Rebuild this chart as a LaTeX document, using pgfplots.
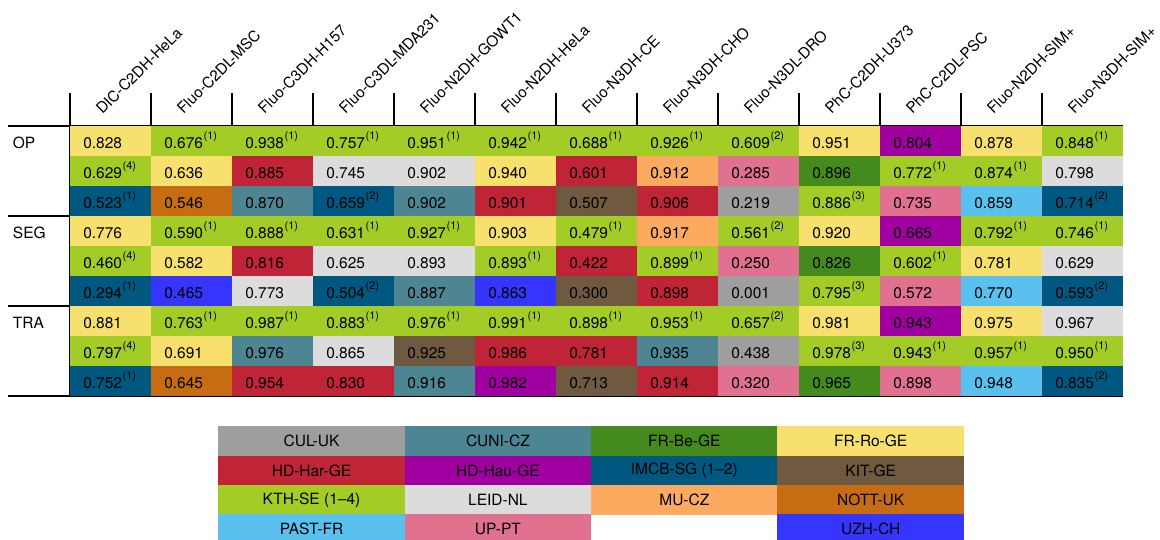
\documentclass[border=0pt]{standalone}
\usepackage{fontspec}
\setmainfont{TeX Gyre Heros}
\usepackage{pgfplots}
\usepackage{pgfplotstable}
\pgfplotsset{compat=1.18}

\definecolor{team-cul}{RGB}{158,158,158}
\definecolor{team-cuni}{RGB}{78,133,146}
\definecolor{team-frbe}{RGB}{68,138,28}
\definecolor{team-frro}{RGB}{247,224,110}
\definecolor{team-hdhar}{RGB}{192,37,55}
\definecolor{team-hdhau}{RGB}{160,0,160}
\definecolor{team-imcb}{RGB}{0,88,128}
\definecolor{team-kit}{RGB}{111,90,65}
\definecolor{team-kth}{RGB}{163,204,39}
\definecolor{team-leid}{RGB}{220,220,220}
\definecolor{team-mu}{RGB}{253,170,97}
\definecolor{team-nott}{RGB}{198,109,20}
\definecolor{team-past}{RGB}{90,192,238}
\definecolor{team-up}{RGB}{224,113,143}
\definecolor{team-uzh}{RGB}{53,53,254}

\newcommand\supfont{\fontsize{11}{12}\selectfont}
\protected\def\supa{\kern0.6pt\raisebox{8.3pt}{\supfont(1)}}
\protected\def\supb{\kern0.6pt\raisebox{8.3pt}{\supfont(2)}}
\protected\def\supc{\kern0.6pt\raisebox{8.3pt}{\supfont(3)}}
\protected\def\supd{\kern0.6pt\raisebox{8.3pt}{\supfont(4)}}

\pgfdeclareplotmark{cell}{\pgfpathrectangle{\pgfpoint{-40.7pt}{-15.2pt}}{\pgfpoint{81.4pt}{30.4pt}}\pgfusepathqfill}
\pgfdeclareplotmark{lcell}{\pgfpathrectangle{\pgfpoint{-93.4pt}{-14.85pt}}{\pgfpoint{186.8pt}{29.7pt}}\pgfusepathqfill}

\newcommand\tfont{\fontsize{15.5}{18}\selectfont}
\newcommand\hfont{\fontsize{15.2}{19}\selectfont}

% table values: column centre x, row centre y, value
\pgfplotstableread{
x y lab
0.5 8.5 0.828
1.5 8.5 0.676\supa
2.5 8.5 0.938\supa
3.5 8.5 0.757\supa
4.5 8.5 0.951\supa
5.5 8.5 0.942\supa
6.5 8.5 0.688\supa
7.5 8.5 0.926\supa
8.5 8.5 0.609\supb
9.5 8.5 0.951
10.5 8.5 0.804
11.5 8.5 0.878
12.5 8.5 0.848\supa
0.5 7.5 0.629\supd
1.5 7.5 0.636
2.5 7.5 0.885
3.5 7.5 0.745
4.5 7.5 0.902
5.5 7.5 0.940
6.5 7.5 0.601
7.5 7.5 0.912
8.5 7.5 0.285
9.5 7.5 0.896
10.5 7.5 0.772\supa
11.5 7.5 0.874\supa
12.5 7.5 0.798
0.5 6.5 0.523\supa
1.5 6.5 0.546
2.5 6.5 0.870
3.5 6.5 0.659\supb
4.5 6.5 0.902
5.5 6.5 0.901
6.5 6.5 0.507
7.5 6.5 0.906
8.5 6.5 0.219
9.5 6.5 0.886\supc
10.5 6.5 0.735
11.5 6.5 0.859
12.5 6.5 0.714\supb
0.5 5.5 0.776
1.5 5.5 0.590\supa
2.5 5.5 0.888\supa
3.5 5.5 0.631\supa
4.5 5.5 0.927\supa
5.5 5.5 0.903
6.5 5.5 0.479\supa
7.5 5.5 0.917
8.5 5.5 0.561\supb
9.5 5.5 0.920
10.5 5.5 0.665
11.5 5.5 0.792\supa
12.5 5.5 0.746\supa
0.5 4.5 0.460\supd
1.5 4.5 0.582
2.5 4.5 0.816
3.5 4.5 0.625
4.5 4.5 0.893
5.5 4.5 0.893\supa
6.5 4.5 0.422
7.5 4.5 0.899\supa
8.5 4.5 0.250
9.5 4.5 0.826
10.5 4.5 0.602\supa
11.5 4.5 0.781
12.5 4.5 0.629
0.5 3.5 0.294\supa
1.5 3.5 0.465
2.5 3.5 0.773
3.5 3.5 0.504\supb
4.5 3.5 0.887
5.5 3.5 0.863
6.5 3.5 0.300
7.5 3.5 0.898
8.5 3.5 0.001
9.5 3.5 0.795\supc
10.5 3.5 0.572
11.5 3.5 0.770
12.5 3.5 0.593\supb
0.5 2.5 0.881
1.5 2.5 0.763\supa
2.5 2.5 0.987\supa
3.5 2.5 0.883\supa
4.5 2.5 0.976\supa
5.5 2.5 0.991\supa
6.5 2.5 0.898\supa
7.5 2.5 0.953\supa
8.5 2.5 0.657\supb
9.5 2.5 0.981
10.5 2.5 0.943
11.5 2.5 0.975
12.5 2.5 0.967
0.5 1.5 0.797\supd
1.5 1.5 0.691
2.5 1.5 0.976
3.5 1.5 0.865
4.5 1.5 0.925
5.5 1.5 0.986
6.5 1.5 0.781
7.5 1.5 0.935
8.5 1.5 0.438
9.5 1.5 0.978\supc
10.5 1.5 0.943\supa
11.5 1.5 0.957\supa
12.5 1.5 0.950\supa
0.5 0.5 0.752\supa
1.5 0.5 0.645
2.5 0.5 0.954
3.5 0.5 0.830
4.5 0.5 0.916
5.5 0.5 0.982
6.5 0.5 0.713
7.5 0.5 0.914
8.5 0.5 0.320
9.5 0.5 0.965
10.5 0.5 0.898
11.5 0.5 0.948
12.5 0.5 0.835\supb
}\celldata

\pgfplotstableread{
x y lab
0.5 3.5 CUL-UK
1.5 3.5 CUNI-CZ
2.5 3.5 FR-Be-GE
3.5 3.5 FR-Ro-GE
0.5 2.5 HD-Har-GE
1.5 2.5 HD-Hau-GE
2.5 2.5 IMCB-SG~(1–2)
3.5 2.5 KIT-GE
0.5 1.5 KTH-SE~(1–4)
1.5 1.5 LEID-NL
2.5 1.5 MU-CZ
3.5 1.5 NOTT-UK
0.5 0.5 PAST-FR
1.5 0.5 UP-PT
3.5 0.5 UZH-CH
}\legenddata

\begin{document}
\begin{tikzpicture}[font=\tfont]
\begin{axis}[at={(70pt,144pt)}, anchor=south west, scale only axis,
  width=1053pt, height=270pt, xmin=0, xmax=13, ymin=0, ymax=9,
  hide axis, clip=false]
% cells of each team
\addplot[only marks, mark=cell, color=team-frro] coordinates {(0.5,8.5) (9.5,8.5) (11.5,8.5) (1.5,7.5) (5.5,7.5) (0.5,5.5) (5.5,5.5) (9.5,5.5) (1.5,4.5) (11.5,4.5) (0.5,2.5) (9.5,2.5) (11.5,2.5) (1.5,1.5)};
\addplot[only marks, mark=cell, color=team-kth] coordinates {(1.5,8.5) (2.5,8.5) (3.5,8.5) (4.5,8.5) (5.5,8.5) (6.5,8.5) (7.5,8.5) (8.5,8.5) (12.5,8.5)
 (0.5,7.5) (10.5,7.5) (11.5,7.5) (9.5,6.5)
 (1.5,5.5) (2.5,5.5) (3.5,5.5) (4.5,5.5) (6.5,5.5) (8.5,5.5) (11.5,5.5) (12.5,5.5)
 (0.5,4.5) (5.5,4.5) (7.5,4.5) (10.5,4.5) (9.5,3.5)
 (1.5,2.5) (2.5,2.5) (3.5,2.5) (4.5,2.5) (5.5,2.5) (6.5,2.5) (7.5,2.5) (8.5,2.5)
 (0.5,1.5) (9.5,1.5) (10.5,1.5) (11.5,1.5) (12.5,1.5)};
\addplot[only marks, mark=cell, color=team-hdhau] coordinates {(10.5,8.5) (10.5,5.5) (10.5,2.5) (5.5,0.5)};
\addplot[only marks, mark=cell, color=team-hdhar] coordinates {(2.5,7.5) (6.5,7.5) (5.5,6.5) (7.5,6.5) (2.5,4.5) (6.5,4.5) (7.5,3.5) (5.5,1.5) (6.5,1.5) (2.5,0.5) (3.5,0.5) (7.5,0.5)};
\addplot[only marks, mark=cell, color=team-leid] coordinates {(3.5,7.5) (4.5,7.5) (12.5,7.5) (3.5,4.5) (4.5,4.5) (12.5,4.5) (2.5,3.5) (12.5,2.5) (3.5,1.5)};
\addplot[only marks, mark=cell, color=team-mu] coordinates {(7.5,7.5) (7.5,5.5)};
\addplot[only marks, mark=cell, color=team-up] coordinates {(8.5,7.5) (10.5,6.5) (8.5,4.5) (10.5,3.5) (8.5,0.5) (10.5,0.5)};
\addplot[only marks, mark=cell, color=team-frbe] coordinates {(9.5,7.5) (9.5,4.5) (9.5,0.5)};
\addplot[only marks, mark=cell, color=team-imcb] coordinates {(0.5,6.5) (3.5,6.5) (12.5,6.5) (0.5,3.5) (3.5,3.5) (12.5,3.5) (0.5,0.5) (12.5,0.5)};
\addplot[only marks, mark=cell, color=team-nott] coordinates {(1.5,6.5) (1.5,0.5)};
\addplot[only marks, mark=cell, color=team-cuni] coordinates {(2.5,6.5) (4.5,6.5) (4.5,3.5) (2.5,1.5) (7.5,1.5) (4.5,0.5)};
\addplot[only marks, mark=cell, color=team-kit] coordinates {(6.5,6.5) (6.5,3.5) (4.5,1.5) (6.5,0.5)};
\addplot[only marks, mark=cell, color=team-cul] coordinates {(8.5,6.5) (8.5,3.5) (8.5,1.5)};
\addplot[only marks, mark=cell, color=team-past] coordinates {(11.5,6.5) (11.5,3.5) (11.5,0.5)};
\addplot[only marks, mark=cell, color=team-uzh] coordinates {(1.5,3.5) (5.5,3.5)};
% values
\addplot[draw=none, mark=none, nodes near coords, point meta=explicit symbolic,
  nodes near coords style={anchor=base west, inner sep=0pt, xshift=-27.4pt, yshift=-7.2pt, text=black, font=\tfont}]
  table[x=x, y=y, meta=lab]{\celldata};
\pgfplotsinvokeforeach{0,...,12}{\draw[line width=1.6pt, black] (axis cs:#1,0) -- (axis cs:#1,10.1);}
\pgfplotsinvokeforeach{0,3,6,9}{\draw[line width=1.8pt, black] (axis cs:-0.762,#1) -- (axis cs:13,#1);}
\node[anchor=base west, inner sep=0pt, font=\tfont] at (axis cs:-0.707,8.26) {OP};
\node[anchor=base west, inner sep=0pt, font=\tfont] at (axis cs:-0.707,5.26) {SEG};
\node[anchor=base west, inner sep=0pt, font=\tfont] at (axis cs:-0.707,2.26) {TRA};
\node[rotate=45, anchor=base west, inner sep=0pt, font=\hfont] at (axis cs:0.40,9.367) {DIC-C2DH-HeLa};
\node[rotate=45, anchor=base west, inner sep=0pt, font=\hfont] at (axis cs:1.40,9.367) {Fluo-C2DL-MSC};
\node[rotate=45, anchor=base west, inner sep=0pt, font=\hfont] at (axis cs:2.40,9.367) {Fluo-C3DH-H157};
\node[rotate=45, anchor=base west, inner sep=0pt, font=\hfont] at (axis cs:3.40,9.367) {Fluo-C3DL-MDA231};
\node[rotate=45, anchor=base west, inner sep=0pt, font=\hfont] at (axis cs:4.40,9.367) {Fluo-N2DH-GOWT1};
\node[rotate=45, anchor=base west, inner sep=0pt, font=\hfont] at (axis cs:5.40,9.367) {Fluo-N2DH-HeLa};
\node[rotate=45, anchor=base west, inner sep=0pt, font=\hfont] at (axis cs:6.40,9.367) {Fluo-N3DH-CE};
\node[rotate=45, anchor=base west, inner sep=0pt, font=\hfont] at (axis cs:7.40,9.367) {Fluo-N3DH-CHO};
\node[rotate=45, anchor=base west, inner sep=0pt, font=\hfont] at (axis cs:8.40,9.367) {Fluo-N3DL-DRO};
\node[rotate=45, anchor=base west, inner sep=0pt, font=\hfont] at (axis cs:9.40,9.367) {PhC-C2DH-U373};
\node[rotate=45, anchor=base west, inner sep=0pt, font=\hfont] at (axis cs:10.40,9.367) {PhC-C2DL-PSC};
\node[rotate=45, anchor=base west, inner sep=0pt, font=\hfont] at (axis cs:11.40,9.367) {Fluo-N2DH-SIM+};
\node[rotate=45, anchor=base west, inner sep=0pt, font=\hfont] at (axis cs:12.40,9.367) {Fluo-N3DH-SIM+};
\end{axis}
\begin{axis}[at={(218.3pt,-3.9pt)}, anchor=south west, scale only axis,
  width=745.6pt, height=117.2pt, xmin=0, xmax=4, ymin=0, ymax=4,
  hide axis, clip=false]
\addplot[only marks, mark=lcell, color=team-cul] coordinates {(0.5,3.5)};
\addplot[only marks, mark=lcell, color=team-cuni] coordinates {(1.5,3.5)};
\addplot[only marks, mark=lcell, color=team-frbe] coordinates {(2.5,3.5)};
\addplot[only marks, mark=lcell, color=team-frro] coordinates {(3.5,3.5)};
\addplot[only marks, mark=lcell, color=team-hdhar] coordinates {(0.5,2.5)};
\addplot[only marks, mark=lcell, color=team-hdhau] coordinates {(1.5,2.5)};
\addplot[only marks, mark=lcell, color=team-imcb] coordinates {(2.5,2.5)};
\addplot[only marks, mark=lcell, color=team-kit] coordinates {(3.5,2.5)};
\addplot[only marks, mark=lcell, color=team-kth] coordinates {(0.5,1.5)};
\addplot[only marks, mark=lcell, color=team-leid] coordinates {(1.5,1.5)};
\addplot[only marks, mark=lcell, color=team-mu] coordinates {(2.5,1.5)};
\addplot[only marks, mark=lcell, color=team-nott] coordinates {(3.5,1.5)};
\addplot[only marks, mark=lcell, color=team-past] coordinates {(0.5,0.5)};
\addplot[only marks, mark=lcell, color=team-up] coordinates {(1.5,0.5)};
\addplot[only marks, mark=lcell, color=team-uzh] coordinates {(3.5,0.5)};
\addplot[draw=none, mark=none, nodes near coords, point meta=explicit symbolic,
  nodes near coords style={anchor=center, inner sep=0pt, text=black, font=\tfont}]
  table[x=x, y=y, meta=lab]{\legenddata};
\end{axis}
\pgfresetboundingbox
\path[use as bounding box] (0,0) rectangle (1160pt,540pt);
\end{tikzpicture}
\end{document}
